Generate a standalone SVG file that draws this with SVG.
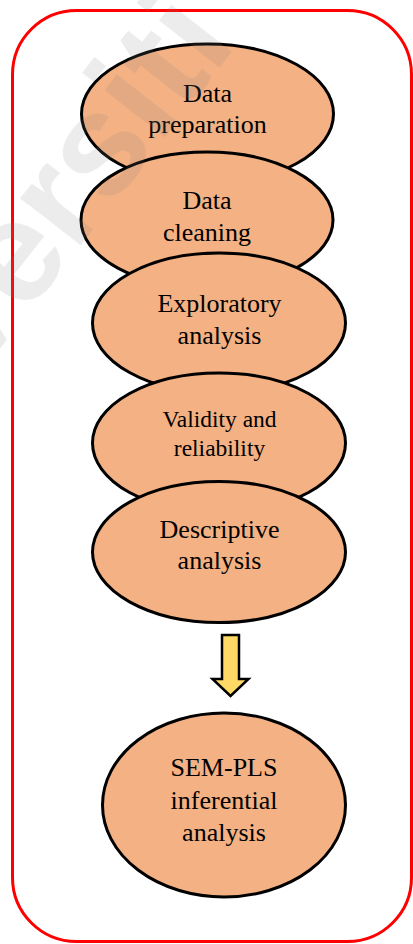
<svg xmlns="http://www.w3.org/2000/svg" width="413" height="944" viewBox="0 0 413 944">
  <style>
    .stage { fill: #F4B183; stroke: #000; stroke-width: 3; }
    .label { font-family: "Liberation Serif", "Times New Roman", serif; font-size: 26px; fill: #000; text-anchor: middle; }
    .small { font-size: 23.5px; }
    .frame { fill: none; stroke: #FF0000; stroke-width: 3; }
    .flow { fill: #FFD966; stroke: #000; stroke-width: 2.5; stroke-linejoin: miter; }
    .mark { font-family: "Liberation Sans", Arial, sans-serif; font-weight: bold; font-size: 145px; fill: #808080; fill-opacity: 0.15; }
  </style>

  <rect width="413" height="944" fill="#fff"/>

  <!-- outer frame -->
  <rect class="frame" x="12.5" y="10.5" width="399" height="931" rx="64" ry="64"/>

  <!-- process stages, stacked top to bottom -->
  <g id="stage-preparation">
    <ellipse class="stage" cx="207.5" cy="114" rx="126" ry="70"/>
    <text class="label" x="207.5" y="102">Data</text>
    <text class="label" x="207.5" y="133">preparation</text>
  </g>
  <g id="stage-cleaning">
    <ellipse class="stage" cx="207" cy="220" rx="126" ry="68"/>
    <text class="label" x="207" y="208.5">Data</text>
    <text class="label" x="207" y="240.5">cleaning</text>
  </g>
  <g id="stage-exploratory">
    <ellipse class="stage" cx="219" cy="323" rx="126.5" ry="70"/>
    <text class="label" x="219.5" y="312">Exploratory</text>
    <text class="label" x="219.5" y="343.5">analysis</text>
  </g>
  <g id="stage-validity">
    <ellipse class="stage" cx="219" cy="443" rx="126.5" ry="70"/>
    <text class="label small" x="219.5" y="427">Validity and</text>
    <text class="label small" x="219.5" y="455.5">reliability</text>
  </g>
  <g id="stage-descriptive">
    <ellipse class="stage" cx="219" cy="552" rx="126.5" ry="70.5"/>
    <text class="label" x="219.5" y="537.5">Descriptive</text>
    <text class="label" x="219.5" y="568.5">analysis</text>
  </g>

  <!-- transition to inferential stage -->
  <g id="connectors">
    <path class="flow" d="M222 635 H239 V679 H248.5 L230.5 696 L212.5 679 H222 Z"/>
  </g>

  <g id="stage-inferential">
    <ellipse class="stage" cx="224" cy="805" rx="121.5" ry="92"/>
    <text class="label" x="224" y="776">SEM-PLS</text>
    <text class="label" x="224" y="808.5">inferential</text>
    <text class="label" x="224" y="841">analysis</text>
  </g>

  <!-- document watermark -->
  <text class="mark" transform="translate(-168.7 564.5) rotate(-52)">Universiti Utara Malaysia</text>
</svg>
